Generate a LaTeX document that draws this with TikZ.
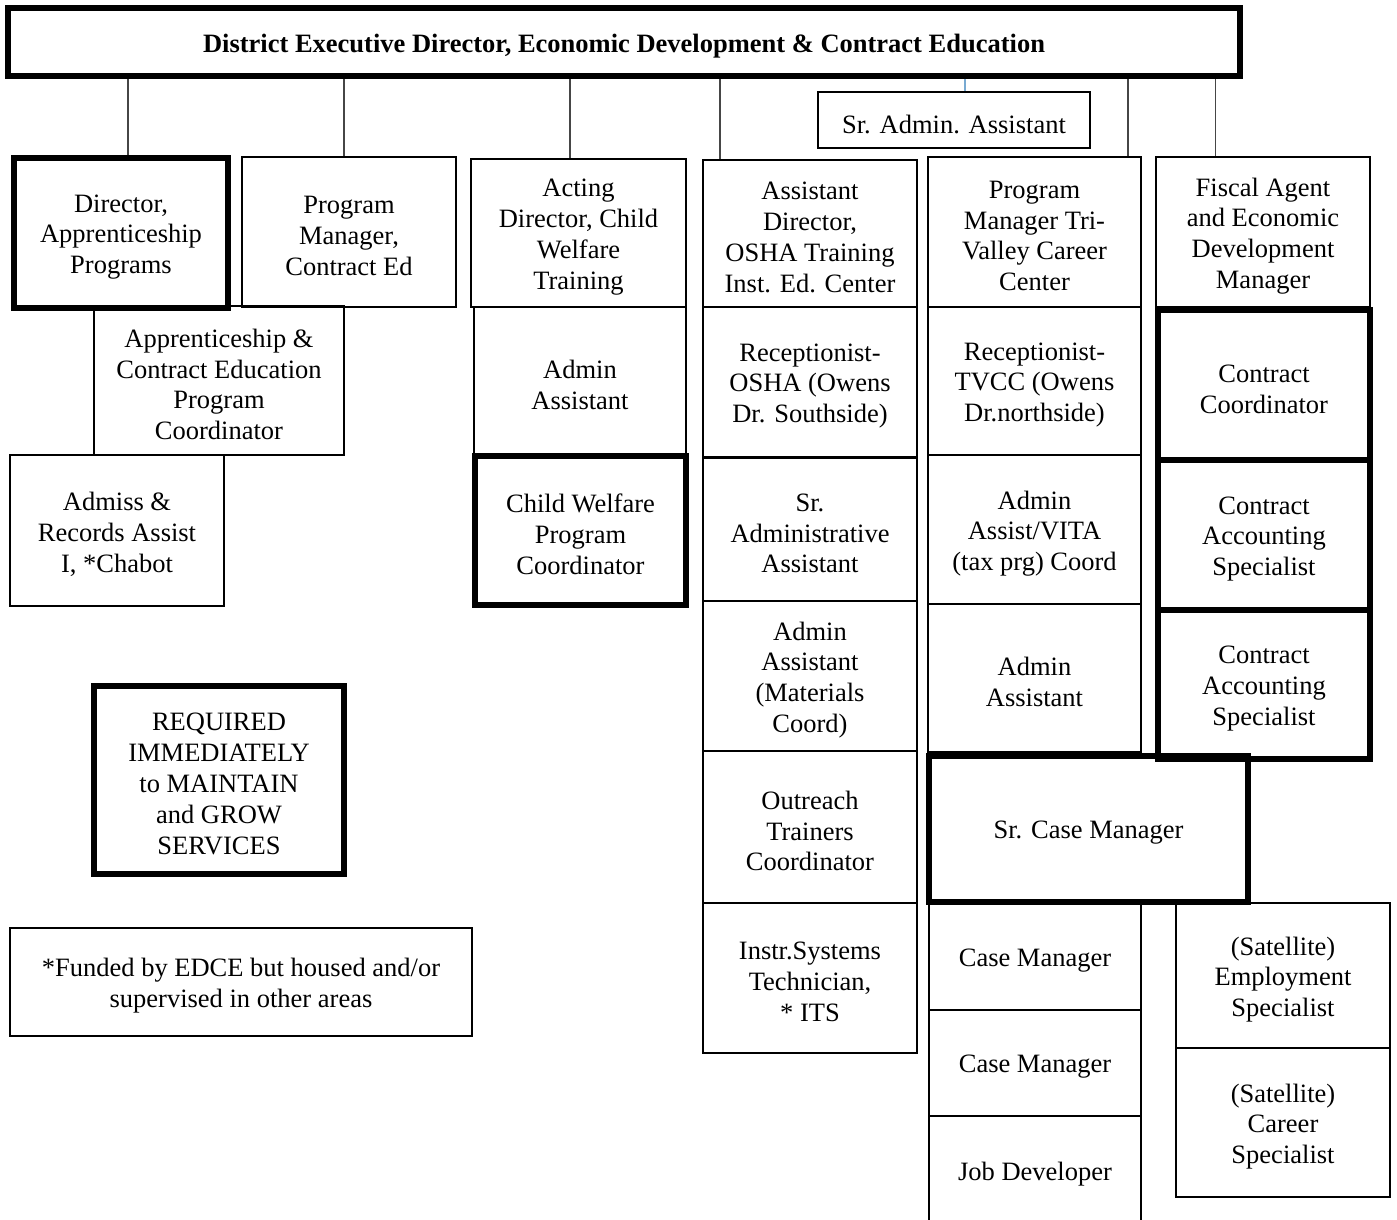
\documentclass[tikz,border=0pt]{standalone}
\usepackage{fontspec}
\setmainfont{Liberation Serif}
\definecolor{linkgray}{RGB}{70,70,70}
\definecolor{linkblue}{RGB}{120,170,210}
% box from corners (x1,y1)-(x2,y2), given in pixel units
\newcommand{\orgbox}[7][]{
	\pgfmathsetmacro{\boxw}{(#4-#2)*0.5}
	\pgfmathsetmacro{\boxh}{(#5-#3)*0.5}
	\node[post, minimum width=\boxw pt, minimum height=\boxh pt, #1,
		label={[align=center, yshift=-2pt]center:#7}] (#6) at ({(#2+#4)/2},{(#3+#5)/2}) {};
}

\begin{document}
\begin{tikzpicture}[x=0.5pt,y=-0.5pt,
	font=\fontsize{13.25}{15.4}\selectfont,
	post/.style={draw, rectangle, line width=1pt, inner sep=0pt, align=center},
	keypost/.style={line width=3pt},
	link/.style={draw=linkgray, line width=0.6pt}]
	\useasboundingbox (0,0) rectangle (1397,1220);
	% head
	\orgbox[keypost]{8}{8}{1240}{76}{top}{\textbf{District Executive Director, Economic Development \& Contract Education}}
	\orgbox{818}{92}{1090}{148}{sradmin}{Sr. Admin. Assistant}
	% apprenticeship and contract ed
	\orgbox{242}{157}{456}{307}{pmce}{Program\\Manager,\\Contract Ed}
	\orgbox{94}{306}{344}{455}{apcoord}{Apprenticeship \&\\Contract Education\\Program\\Coordinator}
	\orgbox{10}{455}{224}{606}{admiss}{Admiss \&\\Records Assist\\I, *Chabot}
	\orgbox[keypost]{14}{158}{228}{308}{dirap}{Director,\\Apprenticeship\\Programs}
	% child welfare
	\orgbox{471}{159}{686}{307}{acting}{Acting\\Director, Child\\Welfare\\Training}
	\orgbox{474}{307}{686}{455}{cwadmin}{Admin\\Assistant}
	\orgbox[keypost]{475}{456}{686}{605}{cwcoord}{Child Welfare\\Program\\Coordinator}
	% osha
	\orgbox{703}{160}{917}{307}{osha}{Assistant\\Director,\\OSHA Training\\Inst. Ed. Center}
	\orgbox{703}{307}{917}{457}{recosha}{Receptionist-\\OSHA (Owens\\Dr. Southside)}
	\orgbox{703}{458}{917}{601}{oshasr}{Sr.\\Administrative\\Assistant}
	\orgbox{703}{601}{917}{751}{oshamat}{Admin\\Assistant\\(Materials\\Coord)}
	\orgbox{703}{751}{917}{903}{outreach}{Outreach\\Trainers\\Coordinator}
	\orgbox{703}{903}{917}{1053}{its}{Instr.Systems\\Technician,\\* ITS}
	% tri-valley career center
	\orgbox{928}{157}{1141}{307}{pmtv}{Program\\Manager Tri-\\Valley Career\\Center}
	\orgbox{928}{307}{1141}{455}{rectv}{Receptionist-\\TVCC (Owens\\Dr.northside)}
	\orgbox{928}{455}{1141}{604}{vita}{Admin\\Assist/VITA\\(tax prg) Coord}
	\orgbox{928}{604}{1141}{752}{tvadmin}{Admin\\Assistant}
	\orgbox{929}{903}{1141}{1010}{casea}{Case Manager}
	\orgbox{929}{1010}{1141}{1116}{caseb}{Case Manager}
	\orgbox{929}{1116}{1141}{1224}{jobdev}{Job Developer}
	\orgbox{1176}{903}{1390}{1048}{satemp}{(Satellite)\\Employment\\Specialist}
	\orgbox{1176}{1048}{1390}{1197}{satcar}{(Satellite)\\Career\\Specialist}
	\orgbox[keypost]{929}{756}{1248}{902}{srcase}{Sr. Case Manager}
	% fiscal
	\orgbox{1156}{157}{1370}{307}{fiscal}{Fiscal Agent\\and Economic\\Development\\Manager}
	\orgbox[keypost]{1158}{310}{1370}{460}{ccoord}{Contract\\Coordinator}
	\orgbox[keypost]{1158}{460}{1370}{610}{caspa}{Contract\\Accounting\\Specialist}
	\orgbox[keypost]{1158}{610}{1370}{759}{caspb}{Contract\\Accounting\\Specialist}
	% key
	\orgbox[keypost]{94}{686}{344}{874}{required}{REQUIRED\\IMMEDIATELY\\to MAINTAIN\\and GROW\\SERVICES}
	\orgbox{10}{928}{472}{1036}{funded}{*Funded by EDCE but housed and/or\\supervised in other areas}
	% links
	\draw[link] ([xshift=3.5pt]dirap.north) -- ([xshift=3.5pt]dirap.north |- top.south);
	\draw[link] ([xshift=-2.5pt]pmce.north) -- ([xshift=-2.5pt]pmce.north |- top.south);
	\draw[link] ([xshift=-4.25pt]acting.north) -- ([xshift=-4.25pt]acting.north |- top.south);
	\draw[link] ([xshift=-45pt]osha.north) -- ([xshift=-45pt]osha.north |- top.south);
	\draw[link] ([xshift=46.75pt]pmtv.north) -- ([xshift=46.75pt]pmtv.north |- top.south);
	\draw[link] ([xshift=-23.75pt]fiscal.north) -- ([xshift=-23.75pt]fiscal.north |- top.south);
	\draw[link, draw=linkblue] ([xshift=5.5pt]sradmin.north) -- ([xshift=5.5pt]sradmin.north |- top.south);
	\draw[post] (casea.north east) -- (satemp.north west);
\end{tikzpicture}
\end{document}
